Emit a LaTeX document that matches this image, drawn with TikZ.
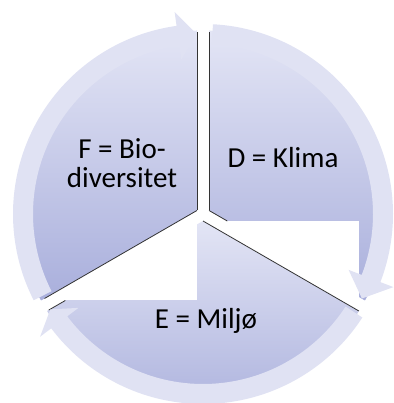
\documentclass[tikz,border=0pt]{standalone}
\usepackage{fontspec}
\setmainfont{Carlito}
\usepackage{xcolor}
\usetikzlibrary{positioning,calc}

\definecolor{segtop}{HTML}{E3E5F5}
\definecolor{segbot}{HTML}{A9AFDC}
\definecolor{ringcol}{HTML}{E0E2F3}

\begin{document}
\begin{tikzpicture}[
    x=1pt, y=1pt,
    segment/.style={top color=segtop, bottom color=segbot, draw=none},
    cutout/.style={fill=white, draw=none},
    segedge/.style={draw=black!80, line width=0.8pt},
    ringarrow/.style={fill=ringcol, draw=none},
    segtext/.style={font=\fontsize{29}{29}\selectfont, align=center, text=black}
]
    \useasboundingbox (0,0) rectangle (393,403);
    \coordinate (c) at (203,189);
    \coordinate (dc) at ($(c)+(30:7)$);
    \coordinate (ec) at ($(c)+(270:7)$);
    \coordinate (fc) at ($(c)+(150:7)$);

    % D sector
    \shade [segment] (dc) -- ++(90:180) arc [start angle=90, end angle=-30, radius=180] -- cycle;
    % E sector, with its white box
    \fill [cutout] ($(ec)+(-156,-180)$) rectangle ($(ec)+(156,0)$);
    \shade [segment] (ec) -- ++(210:180) arc [start angle=210, end angle=330, radius=180] -- cycle;
    % F sector, with its white box
    \fill [cutout] ($(fc)+(-180,-90)$) rectangle ($(fc)+(0,180)$);
    \shade [segment] (fc) -- ++(90:180) arc [start angle=90, end angle=210, radius=180] -- cycle;

    % edges
    \draw [segedge] (dc) -- ++(90:178);
    \draw [segedge] (dc) -- ++(-30:21);
    \draw [segedge] (fc) -- ++(90:178);
    \draw [segedge] (fc) -- ++(210:176);
    \draw [segedge] (ec) -- ++(-30:180);
    \draw [segedge] ($(ec)+(210:159)$) -- ($(ec)+(210:178)$);

    % ring arrows
    \foreach \a/\b/\t in {207/98/92, 87/-21/-28, -33/-143/-148} {
        \fill [ringarrow] ($(c)+(\a:190)$) arc [start angle=\a, end angle=\b, radius=190]
            -- ($(c)+(\b:204)$) -- ($(c)+(\t:180)$) -- ($(c)+(\b:156)$)
            -- ($(c)+(\b:170)$) arc [start angle=\b, end angle=\a, radius=170] -- cycle;
    }

    \node [segtext] (dtext) at (283,245) {D = Klima};
    \node [segtext] (ftext) at (122,240) {F = Bio-\\diversitet};
    \node [segtext] (etext) at (206,82) {E = Miljø};
\end{tikzpicture}
\end{document}
